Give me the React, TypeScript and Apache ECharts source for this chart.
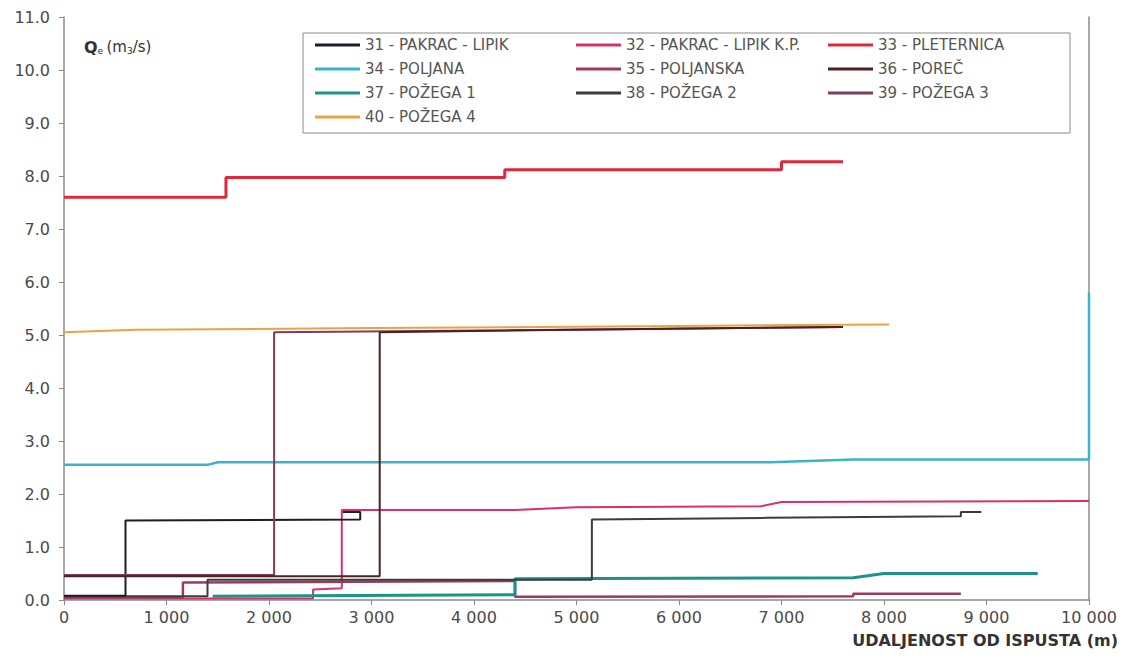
import React, { useEffect, useRef } from "react";
import * as echarts from "echarts";

const FONT = "'DejaVu Sans', 'Liberation Sans', Arial, sans-serif";

const xTicks = [0, 1000, 2000, 3000, 4000, 5000, 6000, 7000, 8000, 9000, 10000];
const yTicks = [0, 1, 2, 3, 4, 5, 6, 7, 8, 9, 10, 11];

const names = [
  "31 - PAKRAC - LIPIK",
  "32 - PAKRAC - LIPIK K.P.",
  "33 - PLETERNICA",
  "34 - POLJANA",
  "35 - POLJANSKA",
  "36 - POREČ",
  "37 - POŽEGA 1",
  "38 - POŽEGA 2",
  "39 - POŽEGA 3",
  "40 - POŽEGA 4",
];

const colors = [
  "#1c1c2a",
  "#d8306e",
  "#e0283c",
  "#3ab4cc",
  "#a0385e",
  "#4a2222",
  "#1e9488",
  "#3c3c3c",
  "#7c3c5c",
  "#eba244",
];

const s31 = [[0, 0.08], [600, 0.08], [600, 1.5], [2890, 1.52], [2890, 1.66], [2720, 1.66]];
const s32 = [[0, 0.03], [2430, 0.03], [2430, 0.2], [2710, 0.22], [2710, 1.7], [4400, 1.7], [5000, 1.75], [6800, 1.77], [7000, 1.85], [10000, 1.87]];
const s33 = [[0, 7.6], [1580, 7.6], [1580, 7.97], [4300, 7.97], [4300, 8.12], [7000, 8.12], [7000, 8.27], [7600, 8.27]];
const s34 = [[0, 2.55], [1400, 2.55], [1500, 2.6], [6900, 2.6], [7700, 2.65], [10000, 2.65], [10000, 5.8]];
const s35 = [[0, 0.05], [1160, 0.05], [1160, 0.33], [4400, 0.36], [4400, 0.06], [7700, 0.07], [7700, 0.12], [8750, 0.12]];
const s36 = [[0, 0.45], [3080, 0.45], [3080, 5.05], [5000, 5.1], [7600, 5.15]];
const s37 = [[1450, 0.07], [4400, 0.1], [4400, 0.4], [7700, 0.42], [8000, 0.5], [9500, 0.5]];
const s38 = [[0, 0.07], [1400, 0.07], [1400, 0.38], [5150, 0.38], [5150, 1.52], [6860, 1.55], [8750, 1.58], [8750, 1.66], [8950, 1.66]];
const s39 = [[0, 0.47], [2050, 0.47], [2050, 5.05], [7600, 5.15]];
const s40 = [[0, 5.05], [700, 5.1], [3000, 5.13], [6000, 5.17], [8050, 5.2]];

const seriesData = [s31, s32, s33, s34, s35, s36, s37, s38, s39, s40];
const widths = [2, 2, 3, 2.5, 2.5, 2, 3, 2, 2, 2];
const drawOrder = [1, 4, 6, 7, 0, 3, 8, 5, 9, 2];

const legendCols = [
  [names[0], names[3], names[6], names[9]],
  [names[1], names[4], names[7]],
  [names[2], names[5], names[8]],
];
const legendLeft = [315, 576, 828];

function fmtThousands(v: number) {
  const s = String(Math.round(v));
  return s.replace(/\B(?=(\d{3})+(?!\d))/g, " ");
}

export default function App() {
  const ref = useRef<HTMLDivElement>(null);
  useEffect(() => {
    if (!ref.current) return;
    const chart = echarts.init(ref.current, undefined, { renderer: "svg" });
    const series = drawOrder.map((i) => ({
      name: names[i],
      type: "line",
      data: seriesData[i],
      showSymbol: false,
      symbol: "none",
      lineStyle: { color: colors[i], width: widths[i] },
      itemStyle: { color: colors[i] },
      z: 2,
    }));
    chart.setOption({
      animation: false,
      backgroundColor: "#ffffff",
      color: colors,
      grid: { left: 64, right: 35, top: 17, bottom: 64 },
      xAxis: {
        type: "value",
        min: 0,
        max: 10000,
        interval: 1000,
        axisLine: { show: true, lineStyle: { color: "#8a8a8a", width: 1.5 } },
        axisTick: { show: true, length: 5, lineStyle: { color: "#8a8a8a" } },
        splitLine: { show: false },
        axisLabel: {
          margin: 9,
          color: "#4a4a4a",
          fontSize: 16,
          fontFamily: FONT,
          formatter: (v: number) => fmtThousands(v),
        },
      },
      yAxis: [
        {
          type: "value",
          min: 0,
          max: 11,
          interval: 1,
          axisLine: { show: true, lineStyle: { color: "#8a8a8a", width: 1.5 } },
          axisTick: { show: true, length: 5, lineStyle: { color: "#8a8a8a" } },
          splitLine: { show: false },
          axisLabel: {
            margin: 14,
            color: "#4a4a4a",
            fontSize: 16,
            fontFamily: FONT,
            formatter: (v: number) => v.toFixed(1),
          },
        },
        {
          type: "value",
          min: 0,
          max: 11,
          interval: 1,
          position: "right",
          axisLine: { show: true, lineStyle: { color: "#8a8a8a", width: 1.5 } },
          axisTick: { show: false },
          axisLabel: { show: false },
          splitLine: { show: false },
        },
      ],
      legend: legendCols.map((col, k) => ({
        orient: "vertical",
        left: legendLeft[k],
        top: 36,
        padding: 0,
        itemGap: 6,
        itemWidth: 45,
        itemHeight: 3,
        icon: "rect",
        data: col,
        textStyle: { fontSize: 15, lineHeight: 18, color: "#555555", fontFamily: FONT },
      })),
      graphic: [
        {
          type: "rect",
          z: 0,
          shape: { x: 303, y: 33, width: 767, height: 100 },
          style: { fill: "#ffffff", stroke: "#8a8a8a", lineWidth: 1 },
        },
        {
          type: "text",
          left: 84,
          top: 39,
          style: {
            text: "{q|Q}{s|e} {n|(m}{s|3}{n|/s)}",
            rich: {
              q: { fontSize: 16, fontWeight: "bold", fill: "#333", fontFamily: FONT },
              n: { fontSize: 15, fill: "#333", fontFamily: FONT },
              s: { fontSize: 9, fill: "#333", fontFamily: FONT, padding: [7, 0, 0, 0] },
            },
          },
        },
        {
          type: "text",
          right: 6,
          top: 632,
          style: {
            text: "UDALJENOST OD ISPUSTA (m)",
            fontSize: 16,
            fontWeight: "bold",
            fill: "#333",
            fontFamily: FONT,
          },
        },
      ],
      series,
    });
    return () => chart.dispose();
  }, []);
  return (
    <div
      ref={ref}
      style={{ position: "fixed", left: 0, top: 0, width: 1124, height: 664 }}
    />
  );
}
